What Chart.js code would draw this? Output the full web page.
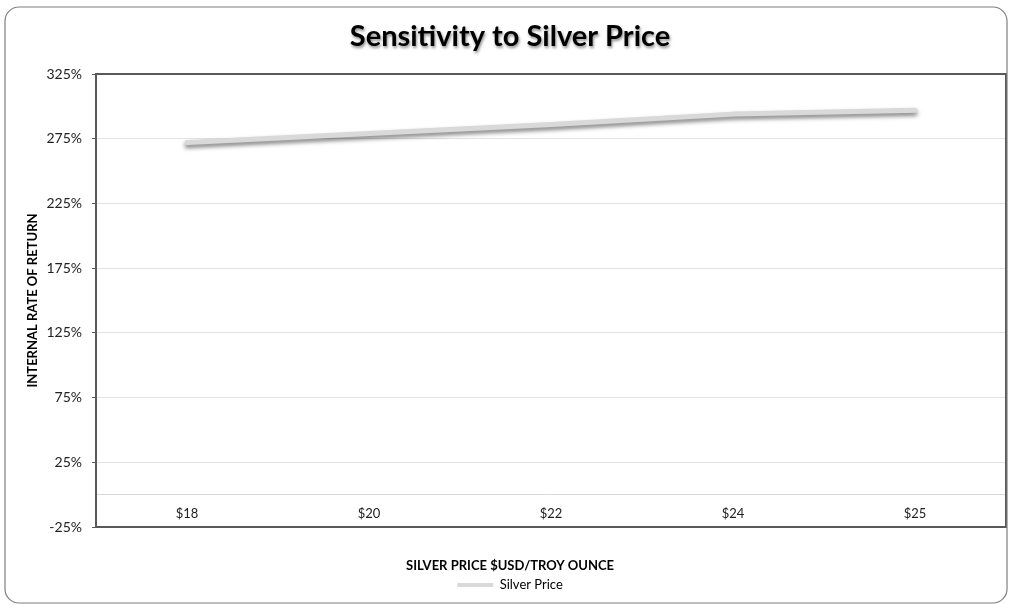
<!DOCTYPE html>
<html><head><meta charset="utf-8">
<script src="https://cdn.jsdelivr.net/npm/chart.js@4.4.1/dist/chart.umd.min.js"></script>
<style>html,body{margin:0;padding:0;background:#fff;overflow:hidden}</style>
</head><body>
<canvas id="c" width="1009" height="605"></canvas>
<script>
const categories = ['$18', '$20', '$22', '$24', '$25'];
const irrValues = [272, 279, 286, 294, 297];
const yTicks = [-25, 25, 75, 125, 175, 225, 275, 325];
const seriesName = 'Silver Price';
const chartTitle = 'Sensitivity to Silver Price';
const xTitle = 'SILVER PRICE $USD/TROY OUNCE';
const yTitle = 'INTERNAL RATE OF RETURN';

const FONT = 'Lato, "Open Sans", sans-serif';

const framePlugin = {
  id: 'frames',
  afterLayout(chart) {
    const tb = chart.titleBlock;
    if (tb && !tb._shadowPatched) {
      const orig = tb.draw.bind(tb);
      tb.draw = function () {
        const ctx = chart.ctx;
        ctx.save();
        ctx.shadowColor = 'rgba(0,0,0,0.45)';
        ctx.shadowBlur = 3;
        ctx.shadowOffsetX = 1;
        ctx.shadowOffsetY = 2;
        orig();
        ctx.restore();
      };
      tb._shadowPatched = true;
    }
  },
  beforeDatasetDraw(chart) {
    const ctx = chart.ctx;
    ctx.save();
    ctx.shadowColor = 'rgba(0,0,0,0.5)';
    ctx.shadowBlur = 4;
    ctx.shadowOffsetX = 0;
    ctx.shadowOffsetY = 3;
  },
  afterDatasetDraw(chart) {
    chart.ctx.restore();
  },
  afterDraw(chart) {
    const ctx = chart.ctx;
    const a = chart.chartArea;
    ctx.save();
    ctx.strokeStyle = '#595959';
    ctx.lineWidth = 2;
    ctx.strokeRect(a.left, a.top, a.right - a.left, a.bottom - a.top);
    ctx.strokeStyle = '#7f7f7f';
    ctx.lineWidth = 1.2;
    const x = 5, y = 7, w = 1002, h = 596, r = 14;
    ctx.beginPath();
    ctx.moveTo(x + r, y);
    ctx.lineTo(x + w - r, y);
    ctx.arcTo(x + w, y, x + w, y + r, r);
    ctx.lineTo(x + w, y + h - r);
    ctx.arcTo(x + w, y + h, x + w - r, y + h, r);
    ctx.lineTo(x + r, y + h);
    ctx.arcTo(x, y + h, x, y + h - r, r);
    ctx.lineTo(x, y + r);
    ctx.arcTo(x, y, x + r, y, r);
    ctx.stroke();
    ctx.restore();
  }
};

new Chart(document.getElementById('c'), {
  type: 'line',
  data: {
    labels: categories,
    datasets: [{
      label: seriesName,
      data: irrValues,
      borderColor: '#d9d9d9',
      backgroundColor: '#d9d9d9',
      borderWidth: 5,
      borderCapStyle: 'round',
      borderJoinStyle: 'round',
      tension: 0,
      pointRadius: 0,
      fill: false
    }]
  },
  options: {
    responsive: false,
    animation: false,
    devicePixelRatio: 1,
    layout: { padding: { left: 14, right: 3, top: 8, bottom: 3.5 } },
    plugins: {
      title: {
        display: true,
        text: chartTitle,
        color: '#000',
        font: { family: FONT, size: 29, weight: 'bold' },
        padding: { top: 11.6, bottom: 19.6 }
      },
      subtitle: {
        display: true,
        text: xTitle,
        position: 'bottom',
        weight: 500,
        color: '#000',
        font: { family: FONT, size: 13, weight: 'bold' },
        padding: { top: 31.2, bottom: 0 }
      },
      legend: {
        display: true,
        position: 'bottom',
        weight: 2000,
        labels: {
          color: '#000',
          font: { family: FONT, size: 13 },
          boxWidth: 36,
          boxHeight: 4,
          padding: 4.7,
          generateLabels: (chart) => [{
            text: seriesName,
            fillStyle: '#d9d9d9',
            strokeStyle: '#d9d9d9',
            lineWidth: 0,
            hidden: false,
            datasetIndex: 0,
            fontColor: '#000'
          }]
        }
      },
      tooltip: { enabled: false }
    },
    scales: {
      x: {
        type: 'category',
        offset: true,
        position: { y: 0 },
        grid: { display: false, drawTicks: false, offset: true },
        border: { display: true, color: '#d9d9d9', width: 1 },
        ticks: {
          color: '#222',
          font: { family: FONT, size: 13 },
          padding: 11,
          maxRotation: 0
        }
      },
      y: {
        min: -25,
        max: 325,
        position: 'left',
        afterFit: (s) => { s.width = 82; },
        afterBuildTicks: (s) => { s.ticks = yTicks.map(v => ({ value: v })); },
        grid: { color: '#e3e3e3', lineWidth: 1, drawTicks: true, tickLength: 4, tickColor: '#595959' },
        border: { display: false },
        ticks: {
          color: '#222',
          font: { family: FONT, size: 14 },
          padding: 10,
          callback: (v) => v + '%'
        },
        title: {
          display: true,
          text: yTitle,
          color: '#000',
          font: { family: FONT, size: 13, weight: 'bold' },
          padding: { top: 11.2, bottom: 0 }
        }
      }
    }
  },
  plugins: [framePlugin]
});
</script>
</body></html>
